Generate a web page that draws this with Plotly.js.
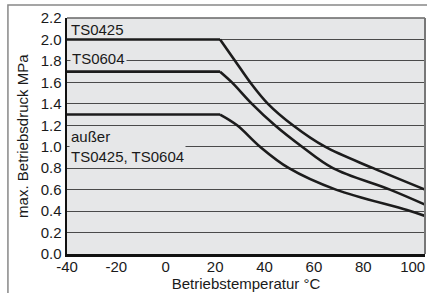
<!DOCTYPE html>
<html>
<head>
<meta charset="utf-8">
<script src="https://cdn.plot.ly/plotly-3.0.1.min.js"></script>
<style>html,body{margin:0;padding:0;background:#fff;}</style>
</head>
<body>
<div id="chart" style="width:427px;height:293px;"></div>
<script>
// Betriebstemperatur (°C) and max. Betriebsdruck (MPa)
const tempTS0425 = [-40, 22, 28.1, 34.2, 41.4, 51.5, 64.5, 84, 105];
const pressTS0425 = [2.0, 2.0, 1.8, 1.6, 1.4, 1.2, 1.0, 0.8, 0.6];

const tempTS0604 = [-40, 22, 26.8, 34.9, 44.2, 55.2, 67.7, 90.8, 105];
const pressTS0604 = [1.7, 1.7, 1.6, 1.4, 1.2, 1.0, 0.8, 0.6, 0.46];

const tempOther = [-40, 22, 28.9, 38.2, 49.9, 68.9, 97.7, 105];
const pressOther = [1.3, 1.3, 1.2, 1.0, 0.8, 0.6, 0.41, 0.355];

const xTicks = [-40, -20, 0, 20, 40, 60, 80, 100];
const xTickText = ['-40', '-20', '0', '20', '40', '60', '80', '100'];
const yTicks = [0, 0.2, 0.4, 0.6, 0.8, 1.0, 1.2, 1.4, 1.6, 1.8, 2.0, 2.2];
const yTickText = ['0.0','0.2','0.4','0.6','0.8','1.0','1.2','1.4','1.6','1.8','2.0','2.2'];

const FONT = 'Liberation Sans, Arial, Helvetica, sans-serif';
const flatStyle = {color: '#1c1c1c', width: 2.6};
const curveStyle = {color: '#1c1c1c', width: 2.6, shape: 'spline', smoothing: 1.0};

// each series: flat plateau (first two points) + falling curve (from the knee on)
function seriesTraces(xs, ys) {
  return [
    {x: xs.slice(0, 2), y: ys.slice(0, 2), mode: 'lines', line: flatStyle, hoverinfo: 'skip'},
    {x: xs.slice(1), y: ys.slice(1), mode: 'lines', line: curveStyle, hoverinfo: 'skip'}
  ];
}

const traces = [].concat(
  seriesTraces(tempTS0425, pressTS0425),
  seriesTraces(tempTS0604, pressTS0604),
  seriesTraces(tempOther, pressOther)
);

const bg = '#e6e7e8';
const layout = {
  width: 427, height: 293,
  margin: {l: 67, r: 2, t: 18, b: 39, pad: 0},
  paper_bgcolor: '#ffffff',
  plot_bgcolor: bg,
  showlegend: false,
  font: {family: FONT, size: 15, color: '#1a1a1a'},
  xaxis: {
    range: [-40, 105], tickvals: xTicks, ticktext: xTickText, ticks: '', showgrid: false, zeroline: false,
    showline: true, linecolor: '#111', linewidth: 2.5,
    tickfont: {size: 15}, ticklabelstandoff: -3,
    title: {text: 'Betriebstemperatur °C', font: {size: 15}, standoff: 0}
  },
  yaxis: {
    range: [0, 2.2], tickvals: yTicks, ticktext: yTickText, ticks: '',
    showgrid: true, gridcolor: '#4a4a4a', gridwidth: 1, zeroline: false,
    showline: true, linecolor: '#111', linewidth: 2.5,
    tickfont: {size: 15}
  },
  shapes: [
    {type: 'line', xref: 'paper', yref: 'paper', x0: 0, x1: 1, y0: 1, y1: 1, line: {color: '#666', width: 1.5}},
    {type: 'line', xref: 'paper', yref: 'paper', x0: 1, x1: 1, y0: 0, y1: 1, line: {color: '#777', width: 2}},
    {type: 'rect', xref: 'paper', yref: 'paper', x0: -0.165, x1: 1.2, y0: -0.4, y1: 1.055, line: {color: '#888', width: 1.5}, layer: 'below'}
  ],
  annotations: [
    {x: -0.126, y: 0.5, xref: 'paper', yref: 'paper', text: 'max. Betriebsdruck MPa', textangle: -90, showarrow: false, xanchor: 'center', yanchor: 'middle', font: {size: 15}},
    {x: -40, y: 2.09, xref: 'x', yref: 'y', text: 'TS0425', showarrow: false, xanchor: 'left', yanchor: 'middle', xshift: 2, font: {size: 15}},
    {x: -40, y: 1.82, xref: 'x', yref: 'y', text: 'TS0604', showarrow: false, xanchor: 'left', yanchor: 'middle', xshift: 3, bgcolor: bg, borderpad: 1, font: {size: 15}},
    {x: -40, y: 1.0, xref: 'x', yref: 'y', text: 'außer<br>TS0425, TS0604', showarrow: false, xanchor: 'left', yanchor: 'middle', align: 'left', xshift: 2, bgcolor: bg, borderpad: 1, font: {size: 15}}
  ]
};

Plotly.newPlot('chart', traces, layout, {displayModeBar: false, staticPlot: true});
</script>
</body>
</html>
